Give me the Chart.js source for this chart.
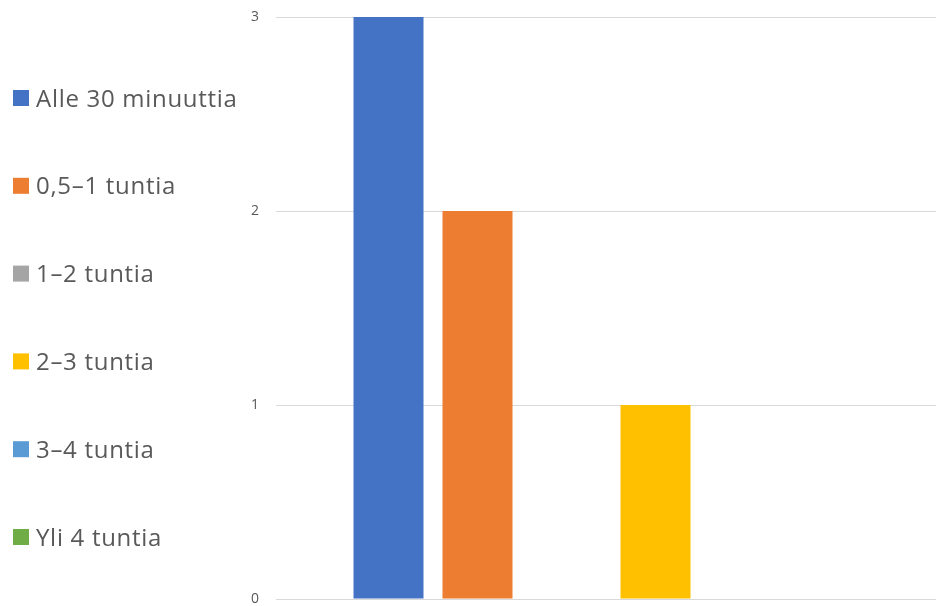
<!DOCTYPE html>
<html>
<head>
<meta charset="utf-8">
<script src="https://cdn.jsdelivr.net/npm/chart.js@4.4.0/dist/chart.umd.min.js"></script>
<style>
html,body{margin:0;padding:0;background:#fff;overflow:hidden;width:936px;height:606px;}
#wrap{position:absolute;left:0;top:0;width:946px;height:606px;}
</style>
</head>
<body>
<div id="wrap"><canvas id="c" width="946" height="606"></canvas></div>
<script>
const categories = [''];
const seriesNames = ['Alle 30 minuuttia', '0,5–1 tuntia', '1–2 tuntia', '2–3 tuntia', '3–4 tuntia', 'Yli 4 tuntia'];
const seriesValues = [[3], [2], [0], [1], [0], [0]];
const seriesColors = ['#4472C4', '#ED7D31', '#A5A5A5', '#FFC000', '#5B9BD5', '#70AD47'];
const yTicks = [0, 1, 2, 3];

const sideLegend = {
  id: 'sideLegend',
  afterDraw(chart) {
    const ctx = chart.ctx;
    ctx.save();
    ctx.font = '24px "Open Sans"';
    if ('letterSpacing' in ctx) ctx.letterSpacing = '0.7px';
    ctx.textBaseline = 'alphabetic';
    ctx.textAlign = 'left';
    chart.data.datasets.forEach((ds, i) => {
      const cy = 98 + i * 87.8;
      ctx.fillStyle = ds.backgroundColor;
      ctx.fillRect(13, cy - 8, 16, 16);
      ctx.fillStyle = '#595959';
      ctx.fillText(ds.label, 36, cy + 8.5);
    });
    ctx.restore();
  }
};

new Chart(document.getElementById('c'), {
  type: 'bar',
  data: {
    labels: categories,
    datasets: seriesNames.map((n, i) => ({
      label: n,
      data: seriesValues[i],
      backgroundColor: seriesColors[i],
      borderWidth: 0,
      barPercentage: 0.7865,
      categoryPercentage: 0.797
    }))
  },
  options: {
    responsive: false,
    animation: false,
    layout: { padding: { left: 240, top: 17, bottom: 7, right: 0 } },
    plugins: { legend: { display: false }, tooltip: { enabled: false } },
    scales: {
      x: { display: false },
      y: {
        min: 0, max: 3,
        afterFit(s) { s.width = 36; },
        afterBuildTicks(s) { s.ticks = yTicks.map(v => ({ value: v })); },
        grid: { color: '#d9d9d9', lineWidth: 1, drawTicks: true, tickLength: 17, tickColor: 'rgba(0,0,0,0)' },
        border: { display: false },
        ticks: { padding: 0, color: '#595959', font: { family: '"Open Sans"', size: 14, lineHeight: 1 } }
      }
    }
  },
  plugins: [sideLegend]
});
</script>
</body>
</html>
